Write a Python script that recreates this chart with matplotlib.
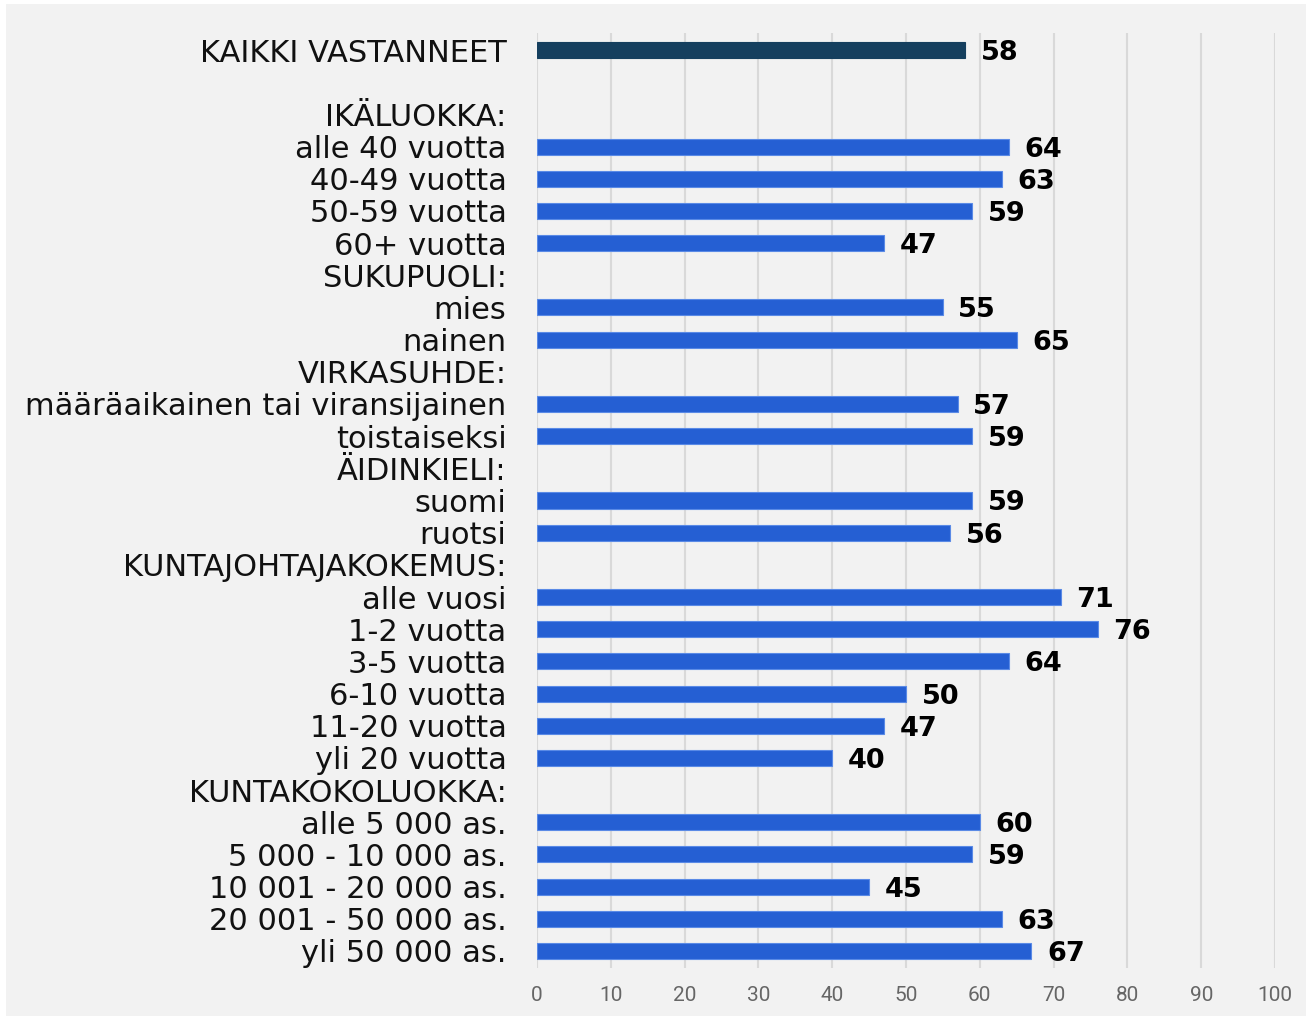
import numpy as np
import matplotlib
matplotlib.use('Agg')
import matplotlib.pyplot as plt
from matplotlib.patches import Rectangle

labels = ['KAIKKI VASTANNEET', '', 'IKÄLUOKKA:', 'alle 40 vuotta', '40-49 vuotta',
          '50-59 vuotta', '60+ vuotta', 'SUKUPUOLI:', 'mies', 'nainen', 'VIRKASUHDE:',
          'määräaikainen tai viransijainen', 'toistaiseksi', 'ÄIDINKIELI:', 'suomi',
          'ruotsi', 'KUNTAJOHTAJAKOKEMUS:', 'alle vuosi', '1-2 vuotta', '3-5 vuotta',
          '6-10 vuotta', '11-20 vuotta', 'yli 20 vuotta', 'KUNTAKOKOLUOKKA:',
          'alle 5 000 as.', '5 000 - 10 000 as.', '10 001 - 20 000 as.',
          '20 001 - 50 000 as.', 'yli 50 000 as.']
values = [58, None, None, 64, 63, 59, 47, None, 55, 65, None, 57, 59, None, 59, 56,
          None, 71, 76, 64, 50, 47, 40, None, 60, 59, 45, 63, 67]

dark = '#153f5e'
blue = '#255fd3'
bg = '#f2f2f2'

fig = plt.figure(figsize=(13.06, 10.16), dpi=100)
fig.patch.set_facecolor('white')
fig.patches.append(Rectangle((6 / 1306, 0), 1, 1 - 4 / 1016, transform=fig.transFigure,
                             facecolor=bg, edgecolor='none', zorder=-10))
ax = fig.add_axes([537 / 1306, 48 / 1016, (1275 - 537) / 1306, (968 - 33) / 1016])
ax.set_facecolor(bg)

y = np.arange(len(labels))
for i, v in enumerate(values):
    if v is None:
        continue
    c = dark if i == 0 else blue
    ec = dark if i == 0 else '#5a8ae6'
    ax.barh(i, v, height=0.5, color=c, edgecolor=ec, linewidth=0.8, zorder=3)
    ax.text(v + 2.1, i, str(v), va='center_baseline', ha='left', fontsize=19.5,
            fontweight='bold', family='DejaVu Sans', color='black', zorder=4)

ax.set_xlim(0, 100)
ax.set_ylim(len(labels) - 0.47, -0.53)
ax.set_xticks(np.arange(0, 101, 10))
ax.set_yticks(y)
ax.set_yticklabels(labels, fontsize=22, family='DejaVu Sans', color='#111111')
ax.tick_params(axis='y', length=0, pad=22)
ax.tick_params(axis='x', length=0, pad=13, labelsize=15, labelcolor='#666666')
for lab in ax.get_xticklabels():
    lab.set_family('Roboto')
ax.grid(axis='x', color='#d9d9d9', linewidth=1.5, zorder=0)
for s in ax.spines.values():
    s.set_visible(False)

fig.savefig('out.png', dpi=100, facecolor=fig.get_facecolor())
